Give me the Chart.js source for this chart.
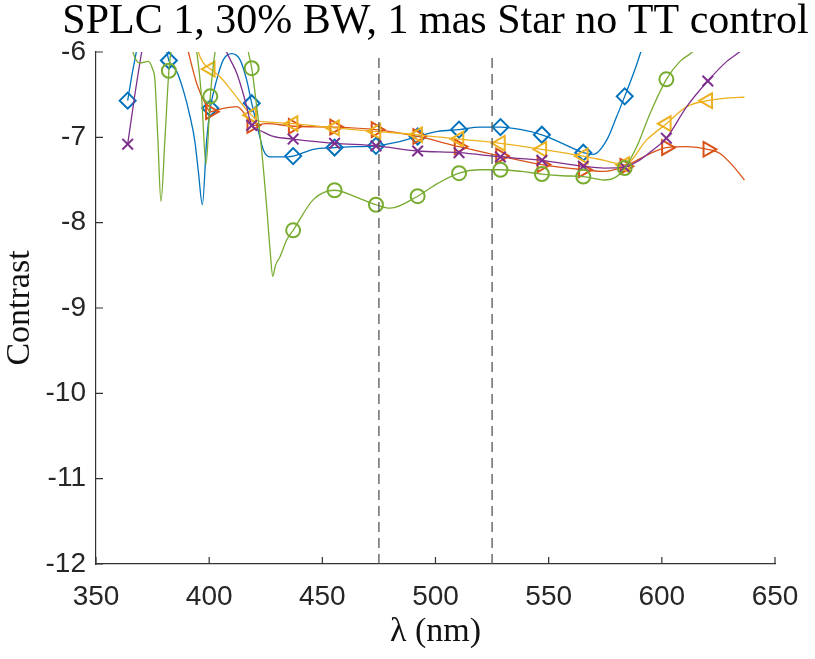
<!DOCTYPE html>
<html>
<head>
<meta charset="utf-8">
<script src="https://cdn.jsdelivr.net/npm/chart.js@4.4.1/dist/chart.umd.min.js"></script>
<style>
  html, body { margin: 0; padding: 0; background: #fff; }
  #wrap { width: 815px; height: 659px; }
</style>
</head>
<body>
<div id="wrap"><canvas id="chart" width="815" height="659"></canvas></div>
<script>
// wavelengths (nm) where the markers sit
const markerLam = [364, 382.2, 400.5, 418.8, 437.1, 455.4, 473.7, 492.1, 510.4, 528.7, 547, 565.3, 583.6, 602, 620.3];

// marker values per series (null = off the plot)
const blueMarks   = [-6.57, -6.10, -6.66, -6.60, -7.22, -7.12, -7.10, -6.99, -6.91, -6.88, -6.97, -7.18, -6.52, null, null];
const redMarks    = [null, null, -6.70, -6.86, -6.87, -6.88, -6.91, -6.99, -7.11, -7.22, -7.32, -7.38, -7.34, -7.12, -7.14];
const yellowMarks = [null, null, -6.20, -6.74, -6.84, -6.89, -6.93, -6.97, -7.02, -7.07, -7.14, -7.22, -7.32, -6.84, -6.57];
const purpleMarks = [-7.08, null, null, -6.86, -7.02, -7.07, -7.10, -7.16, -7.18, -7.23, -7.27, -7.34, -7.35, -7.01, -6.34];
const greenMarks  = [null, -6.22, -6.52, -6.19, -8.09, -7.62, -7.79, -7.69, -7.42, -7.38, -7.43, -7.46, -7.36, -6.32, null];

// the full curves [lambda, contrast]
const blueCurve = [
  [364, -6.57], [366, -6.25], [367.8, -6.0], [370, -5.6], [375, -5.4], [379.5, -5.75], [382.2, -6.10],
  [385.7, -6.23], [388.6, -6.45], [391.5, -6.75], [393.7, -7.05], [395.3, -7.42], [397, -7.79],
  [398.9, -7.03], [400.5, -6.66], [403.3, -6.33], [406.3, -6.09], [410, -6.02], [413.6, -6.09],
  [416.6, -6.33], [418.8, -6.60], [421.7, -6.92], [424, -7.15], [427, -7.23], [431.3, -7.23],
  [437.1, -7.22], [446, -7.14], [455.4, -7.12], [464.5, -7.11], [473.7, -7.10], [482.5, -7.06],
  [492.1, -6.99], [501, -6.93], [510.4, -6.91], [519.5, -6.88], [528.7, -6.88], [538, -6.91],
  [547, -6.97], [556, -7.07], [565.3, -7.18], [569.7, -7.20], [575.7, -7.03], [580, -6.76],
  [583.6, -6.52], [587.5, -6.25], [590.7, -6.0], [595, -5.6]
];
const redCurve = [
  [386, -5.5], [390.8, -6.0], [394.5, -6.37], [398.2, -6.60], [400.5, -6.70], [406.3, -6.66],
  [412.2, -6.64], [416.6, -6.76], [418.8, -6.86], [425.4, -6.84], [437.1, -6.87], [455.4, -6.88],
  [473.7, -6.91], [492.1, -6.99], [510.4, -7.11], [528.7, -7.22], [547, -7.32], [565.3, -7.38],
  [574.5, -7.40], [583.6, -7.34], [594.8, -7.19], [602, -7.12], [611, -7.11], [620.3, -7.14],
  [625.7, -7.19], [631.6, -7.34], [636.5, -7.50]
];
const yellowCurve = [
  [393, -5.7], [395.2, -6.0], [397.5, -6.13], [400.5, -6.20], [404.8, -6.29], [410.7, -6.48],
  [416.6, -6.68], [418.8, -6.74], [421, -6.80], [425.4, -6.82], [437.1, -6.84], [455.4, -6.89],
  [473.7, -6.93], [492.1, -6.97], [510.4, -7.02], [528.7, -7.07], [547, -7.14], [565.3, -7.22],
  [574.5, -7.27], [583.6, -7.32], [593.3, -7.03], [602, -6.84], [611, -6.64], [620.3, -6.57],
  [628.7, -6.54], [636.5, -6.53]
];
const purpleCurve = [
  [364, -7.08], [367, -6.53], [370.2, -6.0], [374, -5.5], [400, -5.4], [405, -5.8], [407.7, -6.0],
  [412.2, -6.25], [415.8, -6.56], [418.8, -6.86], [422.5, -6.92], [428.3, -6.99], [437.1, -7.02],
  [455.4, -7.07], [473.7, -7.10], [492.1, -7.16], [510.4, -7.18], [528.7, -7.23], [547, -7.27],
  [565.3, -7.34], [574.5, -7.36], [583.6, -7.35], [590, -7.27], [595, -7.17], [602, -7.01],
  [611, -6.64], [620.3, -6.34], [628.7, -6.11], [634.3, -6.0], [636.5, -5.95]
];
const greenCurve = [
  [364, -5.7], [366.3, -6.0], [369.4, -6.13], [373.1, -6.11], [375, -6.2], [376, -6.32], [377.3, -7.0],
  [378.7, -7.75], [380.5, -7.0], [382.2, -6.22], [383.4, -5.95], [388, -5.4], [394.5, -6.0],
  [396.7, -6.55], [398.6, -7.32], [400.5, -6.52], [402.6, -6.0], [407, -5.5], [414, -5.5],
  [417.3, -6.0], [418.8, -6.19], [421, -6.64], [423, -7.1], [425.4, -7.81], [427, -8.35],
  [428.1, -8.63], [429.3, -8.5], [431.3, -8.40], [434.3, -8.20], [437.1, -8.09], [446, -7.73],
  [455.4, -7.62], [465, -7.70], [473.7, -7.79], [480, -7.83], [492.1, -7.69], [501, -7.54],
  [510.4, -7.42], [519.5, -7.38], [528.7, -7.38], [538, -7.40], [547, -7.43], [556, -7.45],
  [565.3, -7.46], [574.5, -7.50], [580, -7.46], [583.6, -7.36], [588.9, -7.11], [594.8, -6.72],
  [602, -6.32], [608, -6.11], [613.5, -6.0], [620, -5.8], [630, -5.5]
];

// dashed band edges
const bandEdges = [475, 525];

const xTicks = [350, 400, 450, 500, 550, 600, 650];
const yTicks = [-12, -11, -10, -9, -8, -7, -6];

const axisColor = '#333333';
const textColor = '#262626';

const series = [
  { curve: blueCurve,   marks: blueMarks,   color: '#0072BD', style: 'rectRot',  radius: 8,   rotation: 0 },
  { curve: redCurve,    marks: redMarks,    color: '#D95319', style: 'triangle', radius: 8.5, rotation: 90 },
  { curve: yellowCurve, marks: yellowMarks, color: '#EDB120', style: 'triangle', radius: 8.5, rotation: -90 },
  { curve: purpleCurve, marks: purpleMarks, color: '#7E2F8E', style: 'crossRot', radius: 7.5, rotation: 0 },
  { curve: greenCurve,  marks: greenMarks,  color: '#77AC30', style: 'circle',   radius: 7,   rotation: 0 }
];

const datasets = [];
series.forEach((s, i) => {
  datasets.push({
    data: s.curve.map(([x, y]) => ({ x, y })),
    borderColor: s.color,
    borderWidth: 1.3,
    pointRadius: 0,
    cubicInterpolationMode: 'monotone',
    order: 10 - i
  });
  datasets.push({
    data: markerLam.map((x, k) => ({ x, y: s.marks[k] })).filter(p => p.y !== null),
    showLine: false,
    clip: false,
    pointStyle: s.style,
    pointRadius: s.radius,
    pointRotation: s.rotation,
    pointBorderColor: s.color,
    pointBackgroundColor: 'rgba(0,0,0,0)',
    pointBorderWidth: 2,
    order: 10 - i
  });
});
bandEdges.forEach(x => {
  datasets.push({
    data: [{ x, y: -12 }, { x, y: -6 }],
    borderColor: '#555555',
    borderWidth: 1.3,
    borderDash: [10, 6],
    pointRadius: 0,
    order: 0
  });
});

// MATLAB-like inward tick marks
const inwardTicks = {
  id: 'inwardTicks',
  afterDatasetsDraw(chart) {
    const { ctx, chartArea: a, scales: { x, y } } = chart;
    ctx.save();
    ctx.strokeStyle = axisColor;
    ctx.lineWidth = 1.2;
    ctx.beginPath();
    xTicks.forEach(v => {
      const px = x.getPixelForValue(v);
      ctx.moveTo(px, a.bottom);
      ctx.lineTo(px, a.bottom - 7);
    });
    yTicks.forEach(v => {
      const py = y.getPixelForValue(v);
      ctx.moveTo(a.left, py);
      ctx.lineTo(a.left + 7, py);
    });
    ctx.stroke();
    ctx.restore();
  }
};

// title centred over the plot area
const plotTitle = {
  id: 'plotTitle',
  afterDraw(chart) {
    const { ctx, chartArea: a } = chart;
    ctx.save();
    ctx.font = '42px "Liberation Serif"';
    ctx.fillStyle = '#000';
    ctx.textAlign = 'center';
    ctx.textBaseline = 'alphabetic';
    ctx.fillText('SPLC 1, 30% BW, 1 mas Star no TT control', (a.left + a.right) / 2, 33);
    ctx.restore();
  }
};

new Chart(document.getElementById('chart'), {
  type: 'line',
  data: { datasets },
  options: {
    responsive: false,
    animation: false,
    events: [],
    layout: { padding: { top: 52, right: 40, left: 0, bottom: 0 } },
    plugins: { legend: { display: false }, tooltip: { enabled: false } },
    scales: {
      x: {
        type: 'linear',
        min: 350,
        max: 650,
        afterFit: s => { s.height = 95; },
        afterBuildTicks: s => { s.ticks = xTicks.map(value => ({ value })); },
        grid: { display: false, drawTicks: false },
        border: { display: true, color: axisColor, width: 1.2 },
        ticks: {
          padding: 16,
          color: textColor,
          font: { family: '"Liberation Sans"', size: 28 },
          maxRotation: 0
        },
        title: {
          display: true,
          text: 'λ (nm)',
          color: '#111',
          font: { family: '"Liberation Serif"', size: 34, lineHeight: 1.2 },
          padding: { top: 0, bottom: 7 }
        }
      },
      y: {
        type: 'linear',
        min: -12,
        max: -6,
        afterFit: s => { s.width = 96; },
        afterBuildTicks: s => { s.ticks = yTicks.map(value => ({ value })); },
        grid: { display: false, drawTicks: false },
        border: { display: true, color: axisColor, width: 1.2 },
        ticks: {
          padding: 10,
          color: textColor,
          font: { family: '"Liberation Sans"', size: 28 },
          callback: v => String(v)
        },
        title: {
          display: true,
          text: 'Contrast',
          color: '#111',
          font: { family: '"Liberation Serif"', size: 34, lineHeight: 1.2 },
          padding: { top: 0, bottom: 0 }
        }
      }
    }
  },
  plugins: [inwardTicks, plotTitle]
});
</script>
</body>
</html>
